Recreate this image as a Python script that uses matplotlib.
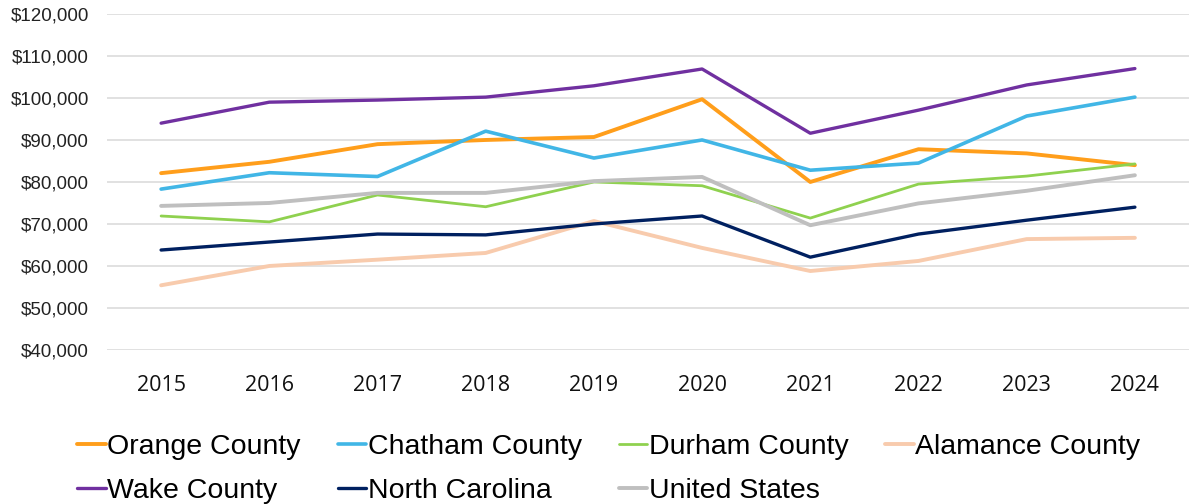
import matplotlib
matplotlib.use("Agg")
import matplotlib.pyplot as plt
from matplotlib.ticker import FuncFormatter

years = [2015, 2016, 2017, 2018, 2019, 2020, 2021, 2022, 2023, 2024]
orange = [82100, 84800, 89000, 90000, 90700, 99700, 80000, 87800, 86800, 84000]
chatham = [78300, 82200, 81300, 92100, 85700, 90000, 82800, 84500, 95700, 100200]
durham = [71900, 70500, 76900, 74100, 80000, 79100, 71400, 79500, 81400, 84300]
alamance = [55400, 60000, 61500, 63100, 70700, 64300, 58800, 61200, 66400, 66700]
wake = [94000, 99000, 99500, 100200, 102900, 106900, 91600, 97100, 103100, 107000]
nc = [63800, 65700, 67600, 67400, 70000, 71900, 62100, 67600, 70900, 74000]
us = [74300, 75000, 77400, 77400, 80200, 81200, 69700, 74900, 77900, 81600]

names = ["Orange County", "Chatham County", "Durham County", "Alamance County",
         "Wake County", "North Carolina", "United States"]
series = [orange, chatham, durham, alamance, wake, nc, us]
colors = ["#FF9E1B", "#41B6E6", "#8FD14F", "#F8CBAD", "#7030A0", "#002060", "#BFBFBF"]
widths = [2.8, 2.6, 2.0, 2.8, 2.4, 2.4, 2.8]

fig = plt.figure(figsize=(11.89, 5.04), dpi=100)
ax = fig.add_axes([0.09, 0.3056, 0.91, 0.6667])

x = list(range(len(years)))
handles = {}
for name, vals, c, w in zip(names, series, colors, widths):
    (h,) = ax.plot(x, vals, color=c, lw=w, solid_capstyle="round", solid_joinstyle="round")
    handles[name] = h

ax.set_xlim(-0.5, len(years) - 0.5)
ax.set_ylim(40000, 120000)
ax.set_yticks(range(40000, 120001, 10000))
ax.yaxis.set_major_formatter(FuncFormatter(lambda v, p: f"${v:,.0f}"))
ax.set_xticks(x)
ax.set_xticklabels([str(y) for y in years])
ax.grid(axis="y", color="#D9D9D9", lw=1.1)
ax.set_axisbelow(True)
for s in ax.spines.values():
    s.set_visible(False)
ax.tick_params(axis="both", length=0)
ax.tick_params(axis="y", pad=13, labelsize=13.5, labelcolor="#222222")
ax.tick_params(axis="x", pad=18, labelsize=15.5, labelcolor="#111111")
for lab in ax.get_yticklabels():
    lab.set_fontfamily("Liberation Sans")
for lab in ax.get_xticklabels():
    lab.set_fontfamily("Open Sans")

order = ["Orange County", "Wake County", "Chatham County", "North Carolina",
         "Durham County", "United States", "Alamance County"]
leg = fig.legend([handles[n] for n in order], order, ncol=4, loc="upper left",
                 bbox_to_anchor=(0.065, 0.138), frameon=False,
                 prop={"family": "Liberation Sans", "size": 20.5},
                 handlelength=1.0, handletextpad=0.05, columnspacing=1.3,
                 labelspacing=0.62, borderaxespad=0, borderpad=0)

fig.savefig("out.png", dpi=100)
